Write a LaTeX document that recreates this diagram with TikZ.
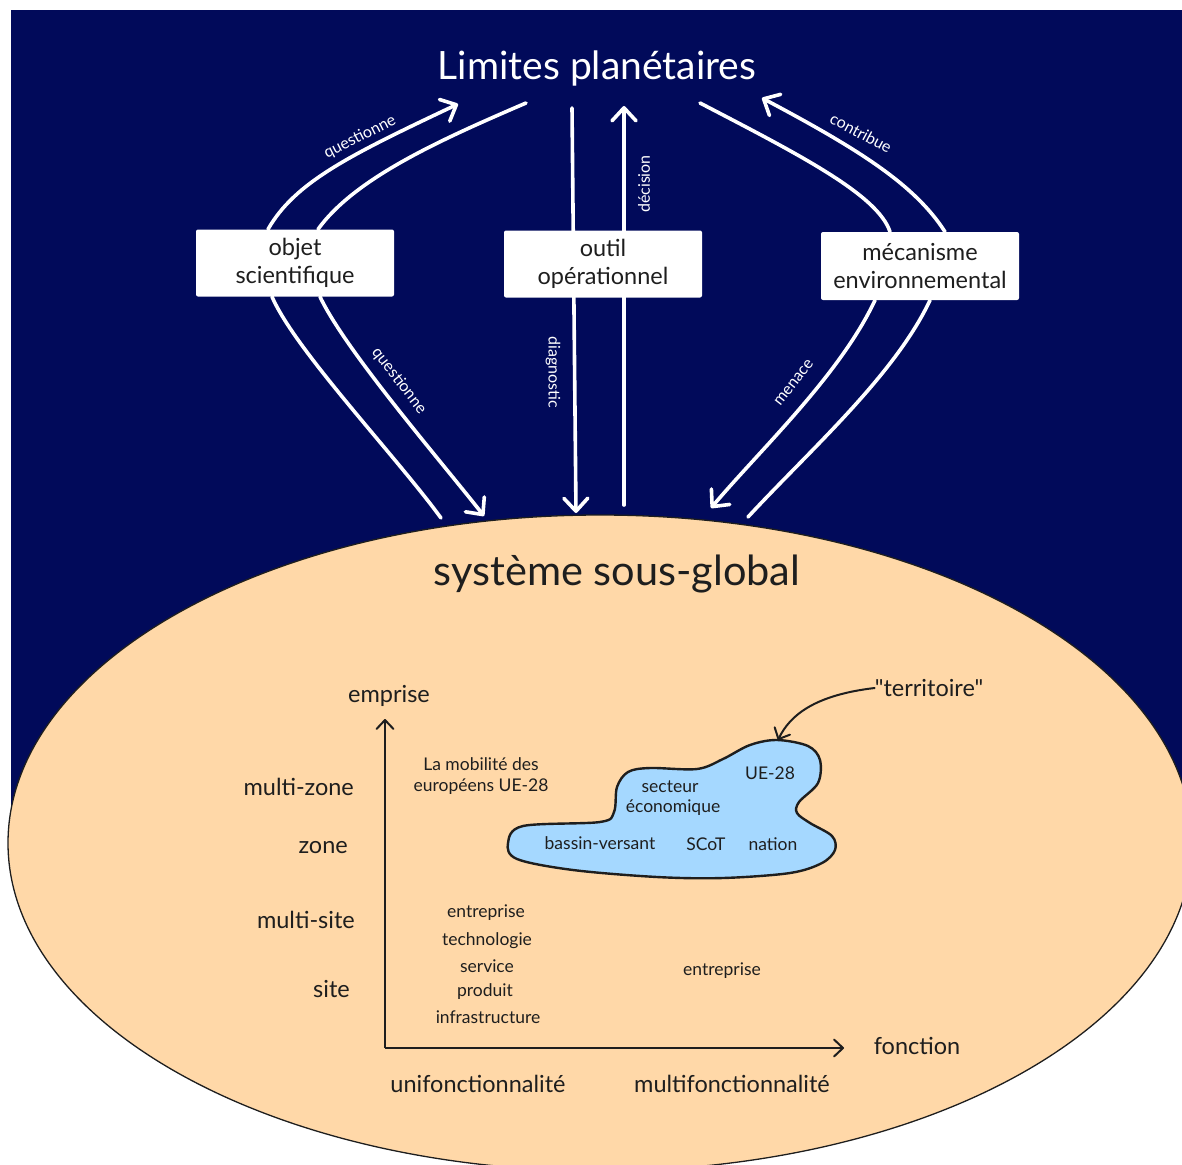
\documentclass[tikz,border=0pt]{standalone}
\usepackage{fontspec}
\setmainfont{Lato}
\newfontfamily\latq{Lato}
\usetikzlibrary{arrows.meta}
\definecolor{navy}{RGB}{1,10,90}
\definecolor{peach}{RGB}{255,216,168}
\definecolor{lblue}{RGB}{165,216,255}
\definecolor{ink}{RGB}{30,30,30}
\tikzset{
  wline/.style={draw=white, line width=3.6pt, line cap=round},
  wtip/.style={-{Straight Barb[length=13pt,width=24pt,line width=3.6pt,round]}},
  wlab/.style={text=white, font=\fontsize{16}{18}\selectfont, inner sep=1pt},
  box/.style={fill=white, rounded corners=2pt, minimum width=198pt, minimum height=67pt, inner sep=0pt, align=center, text=ink, font=\fontsize{23.5}{28}\selectfont},
  lab/.style={text=ink, font=\fontsize{23.5}{26}\selectfont, inner sep=0pt},
  sm/.style={text=ink, font=\fontsize{17.5}{21}\selectfont, inner sep=0pt, align=center},
  axis/.style={draw=ink, line width=2pt, -{Straight Barb[length=9pt,width=17pt,line width=2pt,round]}},
}
\begin{document}
\begin{tikzpicture}[x=1pt,y=-1pt]
\useasboundingbox (0,0) rectangle (1182,1164);
% background
\fill[navy] (11,10) rectangle (1182,810);

% title
\node[text=white, font=\fontsize{39}{44}\selectfont] (lim) at (597,68) {Limites planétaires};

% boxes (positions)
\coordinate (objc) at (295,263);
\coordinate (outc) at (603,264);
\coordinate (mecc) at (920,266);

% free ends
\coordinate (q1e) at (458,104);
\coordinate (l1e) at (526,103);
\coordinate (l2e) at (441,518);
\coordinate (q2e) at (484,516);
\coordinate (dgs) at (572,108);
\coordinate (dge) at (576,513);
\coordinate (dcs) at (624,505);
\coordinate (dce) at (624,106);
\coordinate (l3s) at (700,103);
\coordinate (cte) at (762,98);
\coordinate (mne) at (711,508);
\coordinate (l4e) at (748,517);

% middle vertical arrows (behind box)
\draw[wline, wtip] (dgs) -- (dge);
\draw[wline, wtip] (dcs) -- (dce);

\node[box] (obj) at (objc) {objet\\scientifique};
\node[box] (out) at (outc) {outil\\opérationnel};
\node[box, minimum height=68pt] (mec) at (mecc) {mécanisme\\environnemental};

% left group
\draw[wline, wtip] ([xshift=-27pt]obj.north) .. controls (295,182) and (350,155) .. (q1e);
\draw[wline] ([xshift=23pt]obj.north) .. controls (355,178) and (440,140) .. (l1e);
\draw[wline] ([xshift=-23pt]obj.south) .. controls (295,350) and (395,455) .. (l2e);
\draw[wline, wtip] ([xshift=25pt]obj.south) .. controls (345,350) and (440,460) .. (q2e);
\node[wlab, rotate=27] at (360,137) {questionne};
\node[wlab, rotate=-52] at (399,381) {questionne};

% middle labels
\node[wlab, rotate=-90] at (553,372) {diagnostic};
\node[wlab, rotate=90] at (644,184) {décision};

% right group
\draw[wline] (l3s) .. controls (800,155) and (878,195) .. ([xshift=-30pt]mec.north);
\draw[wline, wtip] ([xshift=25pt]mec.north) .. controls (915,185) and (860,150) .. (cte);
\draw[wline, wtip] ([xshift=-45pt]mec.south) .. controls (840,375) and (760,450) .. (mne);
\draw[wline] ([xshift=10pt]mec.south) .. controls (895,375) and (810,450) .. (l4e);
\node[wlab, rotate=-28] at (861,133) {contribue};
\node[wlab, rotate=52] at (794,383) {menace};

% sub-global system
\draw[fill=peach, draw=ink, line width=1.3pt] (600,843) ellipse [x radius=592pt, y radius=328pt];
\node[text=ink, font=\fontsize{41.5}{46}\selectfont] (sys) at (617,574) {système sous-global};

% axes
\coordinate (org) at (385,1048);
\coordinate (ytop) at (385,719);
\coordinate (xend) at (844,1048);
\draw[axis] (org) -- (ytop);
\draw[axis] (org) -- (xend);
\node[lab] (empr) at (389,696) {emprise};
\node[lab] (fonc) at (917,1046) {fonction};
\node[lab, anchor=east] at (354,787) {multi-zone};
\node[lab, anchor=east] at (348,848) {zone};
\node[lab, anchor=east] at (355,920) {multi-site};
\node[lab, anchor=east] at (350,989) {site};
\node[lab] at (478,1084) {unifonctionnalité};
\node[lab] at (732,1084) {multifonctionnalité};

\node[sm] at (481,776) {La mobilité des\\européens UE-28};
\node[sm] at (486,913) {entreprise};
\node[sm] at (487,941) {technologie};
\node[sm] at (487,966) {service};
\node[sm] at (485,992) {produit};
\node[sm] at (488,1017) {infrastructure};
\node[sm] at (722,971) {entreprise};

% territoire blob
\draw[fill=lblue, draw=ink, line width=2.4pt] plot[smooth cycle, tension=0.55] coordinates {
 (508,843) (523,826) (600,822) (614,812) (617,787) (628,772) (650,768) (697,769)
 (723,759) (750,745) (777,740) (808,746) (820,760) (818,783) (799,802) (797,813)
 (810,823) (832,836) (835,850) (822,863) (790,873) (723,878) (657,877) (573,870) (517,859)};
\node[sm] at (770,773) {UE-28};
\node[sm] at (670,787) {secteur};
\node[sm] at (673,808) {économique};
\node[sm] at (600,843) {bassin-versant};
\node[sm] at (706,844) {SCoT};
\node[sm] at (773,844) {nation};

\node[lab] (terr) at (929,688) {\latq "territoire"};
\draw[draw=ink, line width=2pt, line cap=round, -{Straight Barb[length=9pt,width=17pt,line width=2pt,round]}] (terr.west) .. controls (815,695) and (790,715) .. (778,740);
\end{tikzpicture}
\end{document}
